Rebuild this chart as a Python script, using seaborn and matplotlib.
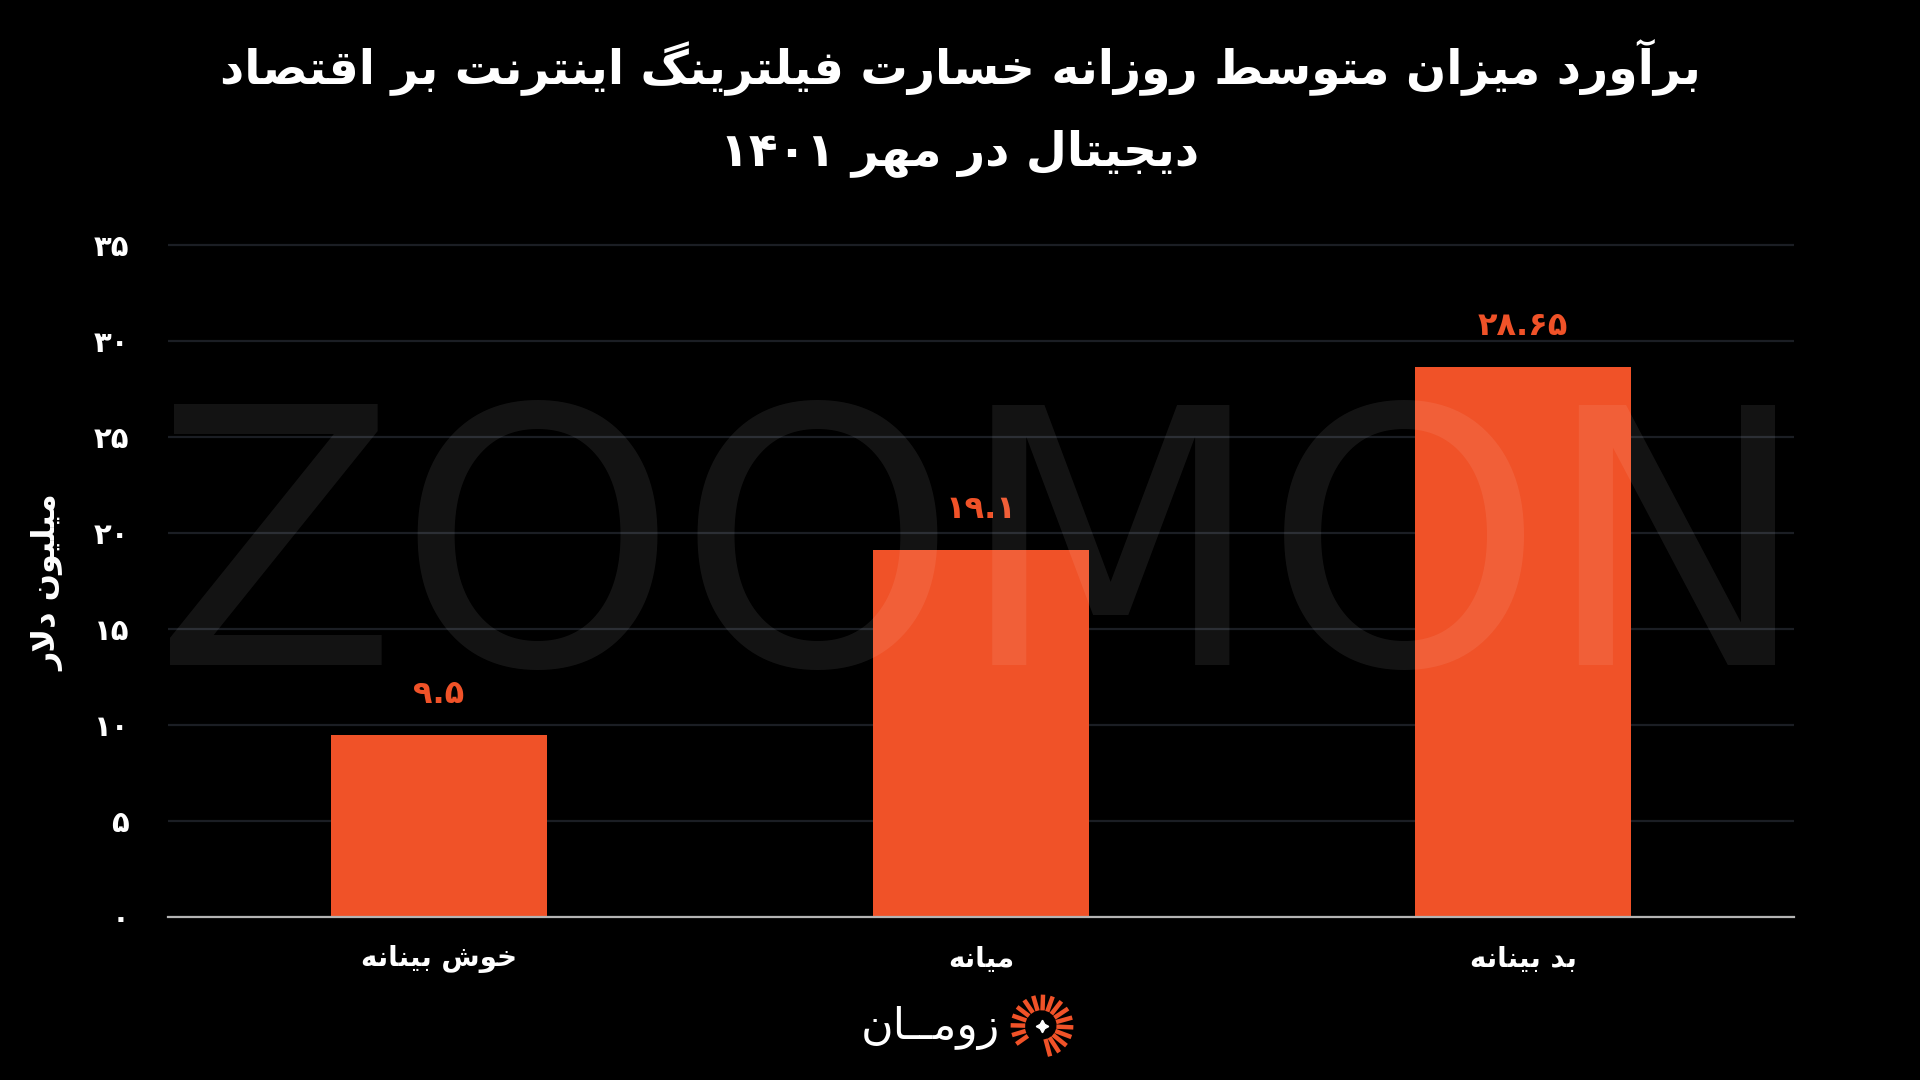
import re

import matplotlib

matplotlib.use("Agg")

import matplotlib.pyplot as plt
import numpy as np
import pandas as pd
import seaborn as sns


SCENARIOS = ["خوش بینانه", "میانه", "بد بینانه"]
DAILY_LOSS = [9.5, 19.1, 28.65]
VALUE_LABELS = ["9.5", "19.1", "28.65"]
Y_TICKS = [0, 5, 10, 15, 20, 25, 30, 35]

TITLE_LINES = [
    "برآورد میزان متوسط روزانه خسارت فیلترینگ اینترنت بر اقتصاد",
    "دیجیتال در مهر 1401",
]
Y_LABEL = "میلیون دلار"
BRAND = "زومــان"

BG = "#000000"
BAR_COLOR = "#F05228"
GRID_COLOR = "#1b1e24"

PERSIAN_DIGITS = str.maketrans("0123456789", "۰۱۲۳۴۵۶۷۸۹")

# matplotlib has no arabic shaping, so map letters to presentation forms by hand
FORMS = {
    "ا": ("\uFE8D", "\uFE8E"),
    "آ": ("\uFE81", "\uFE82"),
    "د": ("\uFEA9", "\uFEAA"),
    "ر": ("\uFEAD", "\uFEAE"),
    "ز": ("\uFEAF", "\uFEB0"),
    "و": ("\uFEED", "\uFEEE"),
    "ب": ("\uFE8F", "\uFE90", "\uFE91", "\uFE92"),
    "ت": ("\uFE95", "\uFE96", "\uFE97", "\uFE98"),
    "ج": ("\uFE9D", "\uFE9E", "\uFE9F", "\uFEA0"),
    "خ": ("\uFEA5", "\uFEA6", "\uFEA7", "\uFEA8"),
    "س": ("\uFEB1", "\uFEB2", "\uFEB3", "\uFEB4"),
    "ش": ("\uFEB5", "\uFEB6", "\uFEB7", "\uFEB8"),
    "ص": ("\uFEB9", "\uFEBA", "\uFEBB", "\uFEBC"),
    "ط": ("\uFEC1", "\uFEC2", "\uFEC3", "\uFEC4"),
    "ف": ("\uFED1", "\uFED2", "\uFED3", "\uFED4"),
    "ق": ("\uFED5", "\uFED6", "\uFED7", "\uFED8"),
    "ل": ("\uFEDD", "\uFEDE", "\uFEDF", "\uFEE0"),
    "م": ("\uFEE1", "\uFEE2", "\uFEE3", "\uFEE4"),
    "ن": ("\uFEE5", "\uFEE6", "\uFEE7", "\uFEE8"),
    "ه": ("\uFEE9", "\uFEEA", "\uFEEB", "\uFEEC"),
    "ی": ("\uFBFC", "\uFBFD", "\uFBFE", "\uFBFF"),
    "گ": ("\uFB92", "\uFB93", "\uFB94", "\uFB95"),
    "ـ": ("ـ", "ـ", "ـ", "ـ"),
}


def joins_next(ch: str) -> bool:
    return ch in FORMS and len(FORMS[ch]) == 4


def shape(text: str) -> str:
    text = text.translate(PERSIAN_DIGITS)
    out = []
    i = 0
    while i < len(text):
        c = text[i]
        linked = i > 0 and joins_next(text[i - 1])
        if c == "ل" and i + 1 < len(text) and text[i + 1] == "ا":
            out.append("\uFEFC" if linked else "\uFEFB")
            i += 2
            continue
        if c not in FORMS:
            out.append(c)
            i += 1
            continue
        f = FORMS[c]
        nxt = text[i + 1] if i + 1 < len(text) else ""
        to_next = len(f) == 4 and nxt in FORMS
        if linked and to_next:
            out.append(f[3])
        elif linked:
            out.append(f[1])
        elif to_next:
            out.append(f[2])
        else:
            out.append(f[0])
        i += 1
    tokens = re.findall(r"[\u06F0-\u06F9][\u06F0-\u06F9.]*|.", "".join(out))
    return "".join(reversed(tokens))


def draw_logo(fig) -> None:
    lax = fig.add_axes([1010 / 1920, 22 / 1080, 64 / 1920, 64 / 1080])
    lax.set_xlim(-1, 1)
    lax.set_ylim(-1, 1)
    lax.set_aspect("equal")
    lax.axis("off")
    for k, ang in enumerate(np.radians(np.linspace(-75, 215, 17))):
        r0 = 0.42 + 0.12 * (k / 16)
        lax.plot(
            [r0 * np.cos(ang), 0.98 * np.cos(ang)],
            [r0 * np.sin(ang), 0.98 * np.sin(ang)],
            color=BAR_COLOR, lw=3.2, solid_capstyle="butt",
        )
    lax.plot(0, 0, marker=(4, 1, 0), color="white", markersize=9)


def main() -> None:
    sns.set_theme(
        style="dark",
        rc={
            "axes.facecolor": BG,
            "figure.facecolor": BG,
            "text.color": "white",
            "xtick.color": "white",
            "ytick.color": "white",
        },
    )
    plt.rcParams["font.family"] = ["DejaVu Sans"]

    df = pd.DataFrame({"scenario": [shape(s) for s in SCENARIOS], "loss": DAILY_LOSS})

    fig = plt.figure(figsize=(19.2, 10.8), dpi=100)
    ax = fig.add_axes([168 / 1920, 163 / 1080, 1626 / 1920, 681.6 / 1080])

    sns.barplot(data=df, x="scenario", y="loss", color=BAR_COLOR, width=0.4,
                saturation=1, linewidth=0, ax=ax, zorder=2)

    ax.set_xlim(-0.5, 2.5)
    ax.set_ylim(0, 35.5)
    ax.set_yticks(Y_TICKS)
    ax.set_yticklabels([str(t).translate(PERSIAN_DIGITS) for t in Y_TICKS],
                       fontsize=21, fontweight="bold")
    ax.tick_params(axis="y", length=0, pad=28)
    ax.tick_params(axis="x", length=0, pad=20, labelsize=20)
    for lbl in ax.get_xticklabels():
        lbl.set_fontweight("bold")
    ax.set_xlabel("")
    ax.set_ylabel(shape(Y_LABEL), fontsize=23, fontweight="bold", color="white")
    ax.yaxis.set_label_coords(-0.064, 0.49)

    ax.yaxis.grid(True, color=GRID_COLOR, linewidth=1.6, zorder=0)
    ax.xaxis.grid(False)
    for side in ["top", "right", "left"]:
        ax.spines[side].set_visible(False)
    ax.spines["bottom"].set_color("#b4b4b4")
    ax.spines["bottom"].set_linewidth(1.6)
    ax.spines["bottom"].set_zorder(3)

    ax.bar_label(ax.containers[0],
                 labels=[shape(v) for v in VALUE_LABELS],
                 padding=18, fontsize=23, fontweight="bold", color=BAR_COLOR)

    fig.text(0.5, 1 - 67 / 1080, shape(TITLE_LINES[0]), ha="center", va="center",
             fontsize=34, fontweight="bold", color="white")
    fig.text(0.5, 1 - 153 / 1080, shape(TITLE_LINES[1]), ha="center", va="center",
             fontsize=34, fontweight="bold", color="white")

    # faint watermark across the plot
    fig.text(982 / 1920, 415 / 1080, "ZOOMON", ha="center", va="baseline",
             fontsize=256, family="DejaVu Sans", fontweight="normal",
             color="white", alpha=0.08, zorder=5)

    fig.text(1000 / 1920, 1 - 1028 / 1080, shape(BRAND), ha="right", va="center",
             fontsize=32, color="white")
    draw_logo(fig)

    fig.savefig("out.png", dpi=100, facecolor=BG)
    plt.close(fig)


if __name__ == "__main__":
    main()
